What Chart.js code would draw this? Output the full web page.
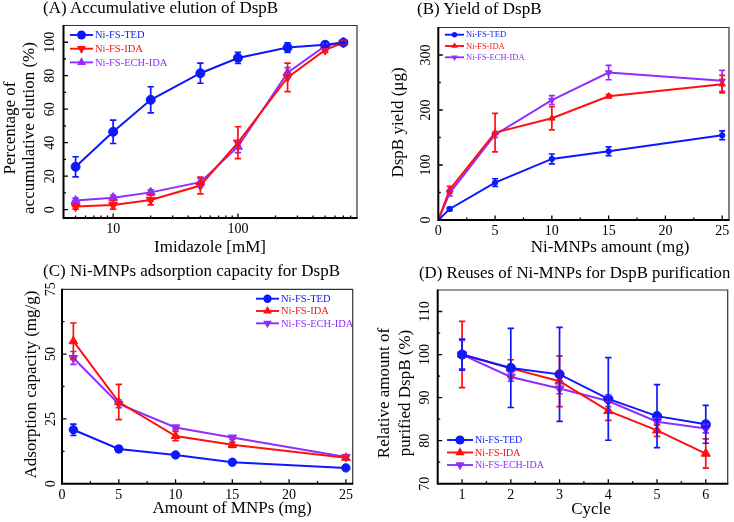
<!DOCTYPE html>
<html><head><meta charset="utf-8">
<script src="https://cdn.jsdelivr.net/npm/chart.js@4.4.1/dist/chart.umd.min.js"></script>
<style>
body{margin:0;background:#fff;}
#wrap{position:relative;width:734px;height:522px;overflow:hidden;font-family:'Liberation Serif','Times New Roman',serif;color:#000;}
canvas{position:absolute;}
.t{position:absolute;white-space:nowrap;font-size:17px;line-height:20px;}
.c{position:absolute;white-space:nowrap;font-size:17px;line-height:20px;width:300px;text-align:center;}
.r{position:absolute;white-space:nowrap;font-size:17px;line-height:19px;text-align:center;transform:rotate(-90deg);}
</style></head><body><div id="wrap">
<canvas id="cA" width="367" height="261" style="left:0;top:0"></canvas>
<canvas id="cB" width="367" height="261" style="left:367px;top:0"></canvas>
<canvas id="cC" width="367" height="261" style="left:0;top:261px"></canvas>
<canvas id="cD" width="367" height="261" style="left:367px;top:261px"></canvas>

<div class="t" style="left:43px;top:-2px">(A) Accumulative elution of DspB</div>
<div class="t" style="left:417px;top:-1px">(B) Yield of DspB</div>
<div class="t" style="left:43px;top:261px">(C) Ni-MNPs adsorption capacity for DspB</div>
<div class="t" style="left:419px;top:263px;font-size:16.8px">(D) Reuses of Ni-MNPs for DspB purification</div>

<div class="c" style="left:60px;top:237px">Imidazole [mM]</div>
<div class="c" style="left:460px;top:237px">Ni-MNPs amount (mg)</div>
<div class="c" style="left:82px;top:498px">Amount of MNPs (mg)</div>
<div class="c" style="left:441px;top:499px">Cycle</div>

<div class="r" style="left:-91px;top:109px;width:220px;height:38px">Percentage of<br>accumulative elution (%)</div>
<div class="r" style="left:317px;top:113px;width:160px;height:19px">DspB yield (μg)</div>
<div class="r" style="left:-80px;top:375px;width:220px;height:19px">Adsorption capacity (mg/g)</div>
<div class="r" style="left:294px;top:372px;width:200px;height:42px;line-height:21px">Relative amount of<br>purified DspB (%)</div>
</div>
<script>
// ---------- Panel A: accumulative elution ----------
const imidazoleMM = [5, 10, 20, 50, 100, 250, 500, 700];
const elutionTED = [25.6, 46.5, 65.6, 81.5, 90.6, 96.8, 98.5, 99.8];
const elutionTEDErr = [6, 7, 7.8, 6, 3.3, 2.8, 1.5, 0.6];
const elutionIDA = [1.8, 2.8, 5.8, 14.4, 40, 79, 95.4, 99.7];
const elutionIDAErr = [1.5, 2.5, 3, 5, 9.5, 8.5, 1.5, 1];
const elutionECH = [5.4, 7.1, 10.3, 16.4, 37.6, 81.8, 97.8, 100];
const elutionECHErr = [1.5, 1.5, 1.5, 2.5, 3.5, 3, 1.5, 1];
const ticksAx = [10, 100];
const minorAx = [4, 5, 6, 7, 8, 9, 20, 30, 40, 50, 60, 70, 80, 90, 200, 300, 400, 500, 600, 700, 800, 900];
const ticksAy = [0, 20, 40, 60, 80, 100];

// ---------- Panel B: yield ----------
const amountB = [0, 1, 5, 10, 15, 25];
const yieldTED = [0, 20, 68, 111, 125, 154];
const yieldTEDErr = [0, 3, 7, 9, 8, 8];
const yieldIDA = [0, 55, 159, 185, 225, 247];
const yieldIDAErr = [0, 6, 35, 21, 3, 16];
const yieldECH = [0, 49, 155, 218, 268, 253];
const yieldECHErr = [0, 5, 5, 8, 13, 19];
const ticksBx = [0, 5, 10, 15, 20, 25];
const ticksBy = [0, 100, 200, 300];

// ---------- Panel C: adsorption capacity ----------
const amountC = [1, 5, 10, 15, 25];
const capTED = [20.8, 13.4, 11.1, 8.3, 6.1];
const capTEDErr = [2.2, 1.2, 0.8, 0.5, 0.5];
const capIDA = [55, 31.5, 18.4, 15, 10];
const capIDAErr = [7, 6.8, 1.8, 1, 0.5];
const capECH = [48.5, 30.8, 21.7, 17.8, 10.3];
const capECHErr = [2.5, 1.5, 0.8, 0.7, 0.5];
const ticksCx = [0, 5, 10, 15, 20, 25];
const ticksCy = [0, 25, 50, 75];

// ---------- Panel D: reuses ----------
const cycles = [1, 2, 3, 4, 5, 6];
const reuseTED = [100, 96.9, 95.4, 89.7, 85.7, 83.8];
const reuseTEDErr = [3.6, 9.2, 10.9, 9.6, 7.3, 4.4];
const reuseIDA = [100, 96.8, 93.8, 86.9, 82.4, 77];
const reuseIDAErr = [7.7, 2, 5.9, 2.2, 1.4, 3.4];
const reuseECH = [100, 94.8, 92.1, 89.2, 84.4, 82.8];
const reuseECHErr = [3.3, 1, 1.2, 1.3, 0.8, 1];
const ticksDx = [1, 2, 3, 4, 5, 6];
const ticksDy = [70, 80, 90, 100, 110];

const seriesNames = ['Ni-FS-TED', 'Ni-FS-IDA', 'Ni-FS-ECH-IDA'];
const BLUE = '#0d18ff', RED = '#ff1010', PURPLE = '#8f2eff';
const SERIF = "'Liberation Serif','Times New Roman',serif";
const W = 367, H = 261;

function steps(lo, hi, step) {
  const out = [];
  for (let k = Math.ceil(lo / step - 1e-9); k * step <= hi + 1e-9; k++) out.push(+(k * step).toFixed(6));
  return out;
}

function drawMarker(ctx, style, rot, r, x, y, color) {
  ctx.fillStyle = color;
  ctx.beginPath();
  if (style === 'circle') ctx.arc(x, y, r, 0, Math.PI * 2);
  else {
    const a0 = rot * Math.PI / 180;
    for (let k = 0; k < 3; k++) {
      const a = a0 + k * 2 * Math.PI / 3;
      const px = x + Math.sin(a) * r, py = y - Math.cos(a) * r;
      if (k) ctx.lineTo(px, py); else ctx.moveTo(px, py);
    }
    ctx.closePath();
  }
  ctx.fill();
}

const originPlugin = {
  id: 'originStyle',
  afterDatasetsDraw(chart) {
    const ctx = chart.ctx, ys = chart.scales.y;
    const cfg = chart.options.plugins.originStyle;
    for (let i = chart.data.datasets.length - 1; i >= 0; i--) {
      const ds = chart.data.datasets[i];
      const meta = chart.getDatasetMeta(i);
      ctx.save();
      ctx.strokeStyle = ds.borderColor;
      ctx.lineWidth = 1.7;
      ctx.beginPath();
      meta.data.forEach((pt, j) => {
        const e = ds.errors[j];
        if (!e) return;
        const v = ds.data[j].y;
        const y1 = ys.getPixelForValue(v + e), y2 = ys.getPixelForValue(v - e);
        const x = pt.x, c = cfg.cap;
        ctx.moveTo(x, y1); ctx.lineTo(x, y2);
        ctx.moveTo(x - c, y1); ctx.lineTo(x + c, y1);
        ctx.moveTo(x - c, y2); ctx.lineTo(x + c, y2);
      });
      ctx.stroke();
      ctx.restore();
    }
  },
  afterDraw(chart) {
    const ctx = chart.ctx, a = chart.chartArea;
    const xs = chart.scales.x, ys = chart.scales.y;
    const cfg = chart.options.plugins.originStyle;
    ctx.save();
    // frame
    ctx.strokeStyle = '#333'; ctx.lineWidth = 1.2;
    ctx.beginPath();
    ctx.moveTo(a.left, a.top); ctx.lineTo(a.right, a.top); ctx.lineTo(a.right, a.bottom);
    ctx.stroke();
    ctx.strokeStyle = '#000'; ctx.lineWidth = 2;
    ctx.beginPath();
    ctx.moveTo(a.left, a.top - 0.6); ctx.lineTo(a.left, a.bottom); ctx.lineTo(a.right + 0.6, a.bottom);
    ctx.stroke();
    // inward ticks
    ctx.lineWidth = 1.3;
    ctx.beginPath();
    const drawT = (vals, len, isX) => vals.forEach(v => {
      if (isX) {
        const p = xs.getPixelForValue(v);
        if (p < a.left + 1 || p > a.right - 1) return;
        ctx.moveTo(p, a.bottom); ctx.lineTo(p, a.bottom - len);
      } else {
        const p = ys.getPixelForValue(v);
        if (p < a.top + 1 || p > a.bottom - 1) return;
        ctx.moveTo(a.left, p); ctx.lineTo(a.left + len, p);
      }
    });
    drawT(cfg.xMajor, 4.5, true); drawT(cfg.xMinor, 2.5, true);
    drawT(cfg.yMajor, 4.5, false); drawT(cfg.yMinor, 2.5, false);
    ctx.stroke();
    // rotated y tick labels
    ctx.fillStyle = '#000';
    ctx.font = '14px ' + SERIF;
    ctx.textAlign = 'center'; ctx.textBaseline = 'middle';
    cfg.yMajor.forEach(v => {
      const p = ys.getPixelForValue(v);
      ctx.save();
      ctx.translate(a.left - cfg.yLabelOffset, p);
      ctx.rotate(-Math.PI / 2);
      ctx.fillText(String(v), 0, 0);
      ctx.restore();
    });
    // legend
    const L = cfg.legend;
    ctx.font = L.font + 'px ' + SERIF;
    ctx.textAlign = 'left';
    chart.data.datasets.forEach((ds, i) => {
      const y = L.y + i * L.dy;
      ctx.strokeStyle = ds.borderColor; ctx.lineWidth = 1.9;
      ctx.beginPath(); ctx.moveTo(L.x0, y); ctx.lineTo(L.x1, y); ctx.stroke();
      drawMarker(ctx, ds.pointStyle, ds.pointRotation || 0, ds.pointRadius, (L.x0 + L.x1) / 2, y, ds.borderColor);
      ctx.fillStyle = ds.borderColor;
      ctx.fillText(ds.label, L.x1 + 2, y + 0.5);
    });
    ctx.restore();
  }
};

function series(label, xsArr, ysArr, errs, color, style, rot, r) {
  return {
    label, data: xsArr.map((x, i) => ({ x, y: ysArr[i] })), errors: errs,
    borderColor: color, backgroundColor: color, pointBackgroundColor: color, pointBorderColor: color,
    pointStyle: style, pointRotation: rot, pointRadius: r, pointBorderWidth: 1, pointHoverRadius: r,
    borderWidth: 2, tension: 0, fill: false
  };
}

function makePanel(id, p) {
  const area = p.area;
  const allX = p.xMajor.concat(p.xMinor).sort((m, n) => m - n);
  new Chart(document.getElementById(id), {
    type: 'line',
    data: { datasets: p.datasets },
    plugins: [originPlugin],
    options: {
      responsive: false, animation: false, maintainAspectRatio: false,
      layout: { padding: { left: 0, top: area.top, right: W - area.right, bottom: 0 } },
      plugins: {
        legend: { display: false }, tooltip: { enabled: false }, title: { display: false },
        originStyle: {
          xMajor: p.xMajor, xMinor: p.xMinor, yMajor: p.yMajor, yMinor: p.yMinor,
          yLabelOffset: p.yLabelOffset, legend: p.legend, cap: p.cap
        }
      },
      scales: {
        x: {
          type: p.xType, min: p.xMin, max: p.xMax,
          grid: { display: false, drawTicks: false }, border: { display: false },
          afterBuildTicks: s => { s.ticks = allX.map(v => ({ value: v })); },
          afterFit: s => { s.height = H - area.bottom; },
          ticks: {
            autoSkip: false, maxRotation: 0, minRotation: 0, padding: 3, color: '#000',
            font: { family: SERIF, size: 14 },
            callback: v => (p.xMajor.includes(v) ? String(v) : '')
          }
        },
        y: {
          type: 'linear', min: p.yMin, max: p.yMax,
          grid: { display: false, drawTicks: false }, border: { display: false },
          ticks: { display: false },
          afterFit: s => { s.width = area.left; }
        }
      }
    }
  });
}

makePanel('cA', {
  area: { left: 63.5, top: 25.5, right: 357, bottom: 218 },
  xType: 'logarithmic', xMin: 4, xMax: 900, xMajor: ticksAx, xMinor: minorAx,
  yMin: -5, yMax: 110, yMajor: ticksAy, yMinor: steps(-5, 110, 10).filter(v => !ticksAy.includes(v)),
  yLabelOffset: 13.5, cap: 3.2,
  legend: { x0: 70, x1: 93, y: 35, dy: 13.7, font: 10.5 },
  datasets: [
    series(seriesNames[0], imidazoleMM, elutionTED, elutionTEDErr, BLUE, 'circle', 0, 4.5),
    series(seriesNames[1], imidazoleMM, elutionIDA, elutionIDAErr, RED, 'triangle', 180, 5.2),
    series(seriesNames[2], imidazoleMM, elutionECH, elutionECHErr, PURPLE, 'triangle', 0, 5.2)
  ]
});

makePanel('cB', {
  area: { left: 71.3, top: 27.5, right: 362, bottom: 220 },
  xType: 'linear', xMin: 0, xMax: 25.6, xMajor: ticksBx, xMinor: steps(0, 25.6, 2.5).filter(v => !ticksBx.includes(v)),
  yMin: 0, yMax: 350, yMajor: ticksBy, yMinor: steps(0, 350, 50).filter(v => !ticksBy.includes(v)),
  yLabelOffset: 12, cap: 3,
  legend: { x0: 78, x1: 97, y: 34.7, dy: 11.3, font: 8.5 },
  datasets: [
    series(seriesNames[0], amountB, yieldTED, yieldTEDErr, BLUE, 'circle', 0, 2.7),
    series(seriesNames[1], amountB, yieldIDA, yieldIDAErr, RED, 'triangle', 0, 3.7),
    series(seriesNames[2], amountB, yieldECH, yieldECHErr, PURPLE, 'triangle', 180, 3.7)
  ]
});

makePanel('cC', {
  area: { left: 62, top: 28.3, right: 352.7, bottom: 222.7 },
  xType: 'linear', xMin: 0, xMax: 25.6, xMajor: ticksCx, xMinor: steps(0, 25.6, 2.5).filter(v => !ticksCx.includes(v)),
  yMin: 0, yMax: 75, yMajor: ticksCy, yMinor: steps(0, 75, 12.5).filter(v => !ticksCy.includes(v)),
  yLabelOffset: 10.5, cap: 3.2,
  legend: { x0: 256, x1: 279, y: 37.7, dy: 12.3, font: 10.5 },
  datasets: [
    series(seriesNames[0], amountC, capTED, capTEDErr, BLUE, 'circle', 0, 4.2),
    series(seriesNames[1], amountC, capIDA, capIDAErr, RED, 'triangle', 0, 5),
    series(seriesNames[2], amountC, capECH, capECHErr, PURPLE, 'triangle', 180, 5)
  ]
});

makePanel('cD', {
  area: { left: 70.7, top: 29, right: 361.7, bottom: 222.7 },
  xType: 'linear', xMin: 0.5, xMax: 6.45, xMajor: ticksDx, xMinor: steps(0.5, 6.45, 0.5).filter(v => !ticksDx.includes(v)),
  yMin: 70, yMax: 115, yMajor: ticksDy, yMinor: steps(70, 115, 5).filter(v => !ticksDy.includes(v)),
  yLabelOffset: 12, cap: 3.2,
  legend: { x0: 80, x1: 106, y: 179, dy: 12.5, font: 10 },
  datasets: [
    series(seriesNames[0], cycles, reuseTED, reuseTEDErr, BLUE, 'circle', 0, 4.6),
    series(seriesNames[1], cycles, reuseIDA, reuseIDAErr, RED, 'triangle', 0, 5.3),
    series(seriesNames[2], cycles, reuseECH, reuseECHErr, PURPLE, 'triangle', 180, 5.3)
  ]
});
</script>
</body></html>
